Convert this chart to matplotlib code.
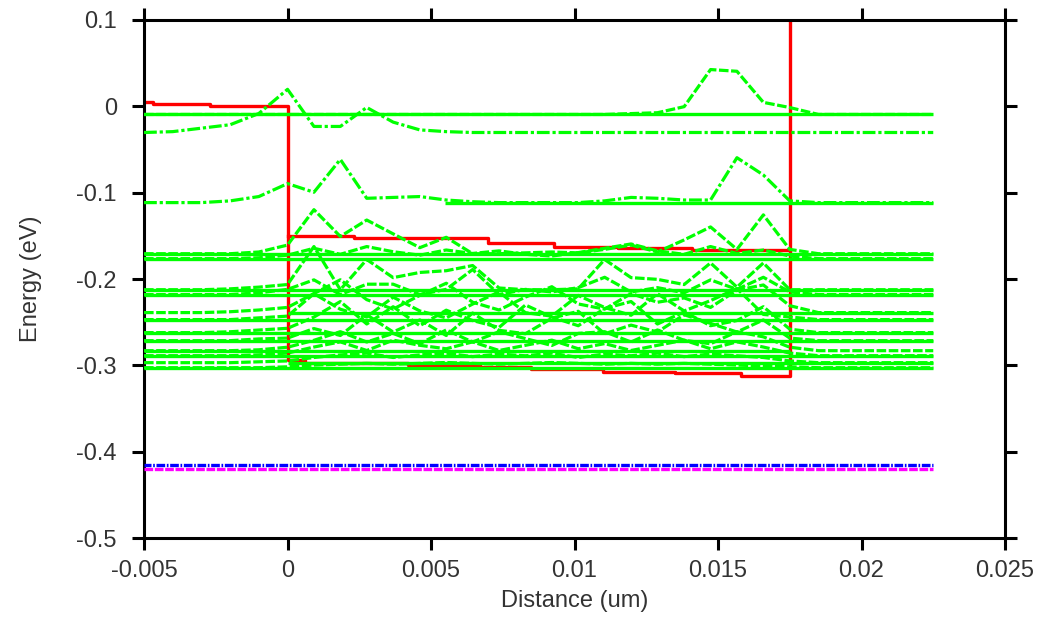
import matplotlib
matplotlib.use("Agg")
import matplotlib.pyplot as plt

plt.rcParams["font.family"] = ["Liberation Sans", "DejaVu Sans"]
plt.rcParams["axes.unicode_minus"] = False

# grid of the simulation (um): 5 nodes left of the well, 20 in it, 5 right
x_nodes = [-0.005, -0.004, -0.003, -0.002, -0.001,
           0.0, 0.00092, 0.00184, 0.00276, 0.00368, 0.00461, 0.00553,
           0.00645, 0.00737, 0.00829, 0.00921, 0.01013, 0.01105, 0.01197,
           0.01289, 0.01382, 0.01474, 0.01566, 0.01658, 0.0175,
           0.0185, 0.0195, 0.0205, 0.0215, 0.0225]

# conduction band edge (steps) and second band inside the well
cb_x = [-0.005, -0.0047, -0.0027, 0.0, 0.0, 0.0006, 0.0042, 0.0067,
        0.0085, 0.0110, 0.0135, 0.0158, 0.0175, 0.0175]
cb_y = [0.005, 0.003, 0.000, 0.000, -0.2934, -0.2969, -0.2993, -0.3017,
        -0.3040, -0.3075, -0.3093, -0.3122, -0.3122, 0.2]
band2_x = [0.0, 0.0023, 0.0070, 0.0093, 0.0115, 0.0141, 0.0175]
band2_y = [-0.1498, -0.1527, -0.1579, -0.1625, -0.1637, -0.1660, -0.1660]

# fermi levels
ef_blue = -0.4155
ef_magenta = -0.4195
ef_span = (-0.005, 0.0225)

# eigen energies (eV)
levels = [-0.0094, -0.0303, -0.1115, -0.1707, -0.1764, -0.2124, -0.2180,
          -0.2389, -0.2470, -0.2621, -0.2714, -0.2830, -0.2888, -0.2969,
          -0.3027]

# |psi|^2 offsets above each level, one value per node
psi_01 = [0, 0, 0, 0, 0,
          0, 0, 0, 0, 0, 0, 0, 0, 0, 0, 0, 0, 0, 0.001, 0.002, 0.009,
          0.052, 0.050, 0.014, 0.008,
          0, 0, 0, 0, 0]
psi_02 = [0, 0.001, 0.005, 0.009, 0.022,
          0.050, 0.007, 0.007, 0.029, 0.012, 0.003, 0.001, 0, 0, 0,
          0, 0, 0, 0, 0, 0, 0, 0, 0, 0,
          0, 0, 0, 0, 0]
psi_03 = [0, 0, 0, 0.002, 0.007,
          0.022, 0.012, 0.050, 0.005, 0.006, 0.007, 0.003, 0.001, 0, 0,
          0, 0, 0.002, 0.006, 0.005, 0.003, 0.003, 0.052, 0.032, 0.002,
          0, 0, 0, 0, 0]
psi_04 = [0, 0, 0, 0, 0.002,
          0.010, 0.051, 0.020, 0.039, 0.023, 0.007, 0.019, 0, 0, 0.001,
          0.002, 0.001, 0.005, 0.010, 0.002, 0.016, 0.031, 0.005, 0.045, 0.005,
          0, 0, 0, 0, 0]
psi_05 = [0, 0, 0, 0, 0.001,
          0.004, 0.012, 0.005, 0.014, 0.008, 0.004, 0.010, 0.006, 0.009, 0.005,
          0.003, 0.007, 0.012, 0.017, 0.009, 0.005, 0.014, 0.006, 0.010, 0.003,
          0, 0, 0, 0, 0]
psi_06 = [0, 0, 0, 0.001, 0.003,
          0.006, 0.050, 0, 0.035, 0.014, 0.020, 0.022, 0.028, 0.002, 0,
          0, 0.001, 0.035, 0.014, 0.012, 0.006, 0.031, 0.003, 0.031, 0,
          0, 0, 0, 0, 0]
psi_07 = [0, 0, 0, 0, 0.002,
          0.006, 0.017, 0, 0.012, 0.012, 0, 0.006, 0.029, 0, 0.006,
          0.003, 0.008, 0.020, 0.003, 0.008, 0.002, 0.017, 0.006, 0.020, 0.003,
          0, 0, 0, 0, 0]
psi_08 = [0, 0, 0, 0.001, 0.003,
          0.006, 0.022, 0.038, 0.015, 0.004, 0.020, 0.034, 0.012, 0.003, 0.018,
          0.030, 0.010, 0.004, 0.022, 0.012, 0.017, 0.006, 0.026, 0.032, 0.008,
          0, 0, 0, 0, 0]
psi_09 = [0, 0, 0, 0, 0.002,
          0.004, 0.030, 0.012, 0.003, 0.026, 0.010, 0.002, 0.018, 0.032, 0.008,
          0.004, 0.028, 0.014, 0.005, 0.030, 0.010, 0.022, 0.036, 0.006, 0.003,
          0, 0, 0, 0, 0]
psi_10 = [0, 0, 0, 0.001, 0.003,
          0.005, 0.018, 0.036, 0.010, 0.030, 0.008, 0.026, 0.014, 0.006, 0.032,
          0.018, 0.008, 0.028, 0.036, 0.010, 0.024, 0.008, 0.014, 0.030, 0.004,
          0, 0, 0, 0, 0]
psi_11 = [0, 0, 0, 0, 0.002,
          0.003, 0.014, 0.006, 0.030, 0.010, 0.024, 0.006, 0.032, 0.012, 0.008,
          0.026, 0.034, 0.008, 0.018, 0.010, 0.030, 0.020, 0.010, 0.024, 0.003,
          0, 0, 0, 0, 0]
psi_12 = [0, 0, 0, 0, 0.001,
          0.004, 0.012, 0.022, 0.010, 0.020, 0.008, 0.024, 0.010, 0.022, 0.014,
          0.006, 0.020, 0.022, 0.010, 0.024, 0.012, 0.008, 0.022, 0.016, 0.004,
          0, 0, 0, 0, 0]
psi_13 = [0, 0, 0, 0, 0.001,
          0.003, 0.010, 0.016, 0.006, 0.018, 0.012, 0.008, 0.016, 0.006, 0.012,
          0.018, 0.008, 0.014, 0.006, 0.012, 0.018, 0.008, 0.016, 0.010, 0.003,
          0, 0, 0, 0, 0]
psi_14 = [0, 0, 0, 0, 0.001,
          0.002, 0.006, 0.009, 0.011, 0.006, 0.009, 0.011, 0.007, 0.010, 0.008,
          0.011, 0.006, 0.010, 0.008, 0.011, 0.007, 0.010, 0.008, 0.006, 0.002,
          0, 0, 0, 0, 0]
psi_15 = [0, 0, 0, 0, 0,
          0.001, 0.003, 0.004, 0.005, 0.004, 0.005, 0.006, 0.005, 0.004, 0.005,
          0.006, 0.005, 0.004, 0.005, 0.004, 0.005, 0.004, 0.003, 0.002, 0.001,
          0, 0, 0, 0, 0]

psis = [psi_01, psi_02, psi_03, psi_04, psi_05, psi_06, psi_07, psi_08,
        psi_09, psi_10, psi_11, psi_12, psi_13, psi_14, psi_15]

x_ticks = [-0.005, 0, 0.005, 0.01, 0.015, 0.02, 0.025]
x_ticklabels = ["-0.005", "0", "0.005", "0.01", "0.015", "0.02", "0.025"]
y_ticks = [0.1, 0, -0.1, -0.2, -0.3, -0.4, -0.5]
y_ticklabels = ["0.1", "0", "-0.1", "-0.2", "-0.3", "-0.4", "-0.5"]

# styling
GREEN = "#00ff00"
full = (-0.005, 0.0225)
level_spans = [full, None, (0.0055, 0.0225), full, full, full, full,
               (0.0, 0.0225), full, full, full, (-0.005, 0.0175), full,
               (0.0, 0.0225), full]
dashdot = (0, (4.0, 0.9, 1.0, 0.9))
dashed = (0, (3.0, 0.8))
curve_styles = [dashed, dashdot, dashdot] + [dashed] * 12

fig = plt.figure(figsize=(10.46, 6.23), dpi=100)
ax = fig.add_axes([0.1377, 0.1364, 0.8231, 0.8315])

ax.plot(cb_x, cb_y, color="red", lw=2.4, drawstyle="steps-post", zorder=2)
ax.plot(band2_x, band2_y, color="red", lw=2.4, drawstyle="steps-post", zorder=2)

for E, psi, span, style in zip(levels, psis, level_spans, curve_styles):
    if span is not None:
        ax.hlines(E, span[0], span[1], color=GREEN, lw=2.4, zorder=3)
    ax.plot(x_nodes, [E + p for p in psi], color=GREEN, lw=2.3,
            linestyle=style, zorder=3)

ax.hlines(ef_magenta, *ef_span, color="#ff00ff", lw=2.4,
          linestyles=[(0, (2.6, 0.5))], zorder=4)
ax.hlines(ef_blue, *ef_span, color="#0000ff", lw=2.4,
          linestyles=[(0.5, (2.6, 0.5, 0.5, 0.5))], zorder=5)

ax.set_xlim(-0.005, 0.025)
ax.set_ylim(-0.5, 0.1)
ax.set_xticks(x_ticks)
ax.set_xticklabels(x_ticklabels)
ax.set_yticks(y_ticks)
ax.set_yticklabels(y_ticklabels)

ax.tick_params(direction="out", length=8.5, width=2.2, labelsize=17,
               colors="black", labelcolor="#333333",
               top=True, right=True)
ax.tick_params(axis="x", pad=7)
ax.tick_params(axis="y", pad=11)
for sp in ax.spines.values():
    sp.set_linewidth(2.2)

ax.set_xlabel("Distance (um)", fontsize=17, color="#333333", labelpad=6)
ax.set_ylabel("Energy (eV)", fontsize=17, color="#333333", labelpad=25)

fig.savefig("out.png", dpi=100)
